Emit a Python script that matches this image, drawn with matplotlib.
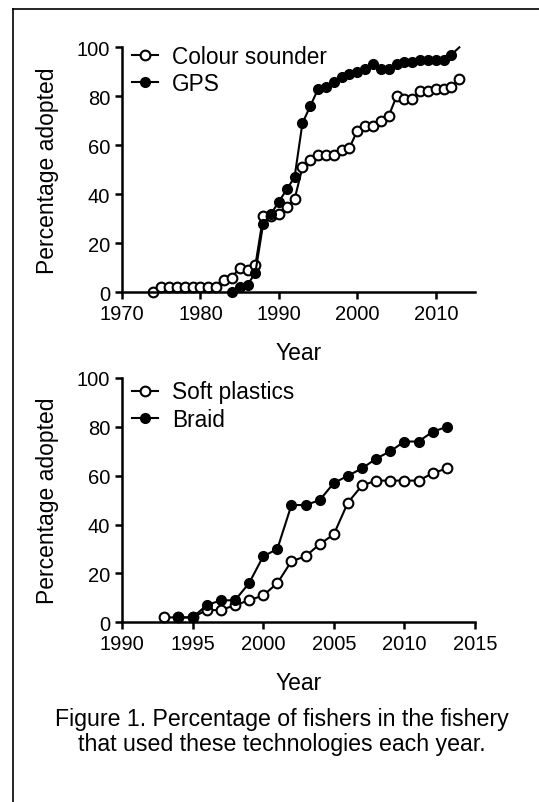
import matplotlib
matplotlib.use("Agg")
import matplotlib.pyplot as plt
from matplotlib.lines import Line2D

plt.rcParams['font.family'] = ['Liberation Sans', 'DejaVu Sans']

# top panel data
years_cs = list(range(1974, 2014))
colour_sounder = [0, 2, 2, 2, 2, 2, 2, 2, 2, 5, 6, 10, 9, 11, 31, 31, 32, 35, 38,
                  51, 54, 56, 56, 56, 58, 59, 66, 68, 68, 70, 72, 80, 79, 79,
                  82, 82, 83, 83, 84, 87]
years_gps = list(range(1984, 2014))
gps = [0, 2, 3, 8, 28, 32, 37, 42, 47, 69, 76, 83, 84, 86, 88, 89, 90, 91, 93,
       91, 91, 93, 94, 94, 95, 95, 95, 95, 97, 100]

# bottom panel data
years_sp = list(range(1993, 2014))
soft_plastics = [2, 2, 2, 5, 5, 7, 9, 11, 16, 25, 27, 32, 36, 49, 56, 58, 58,
                 58, 58, 61, 63]
years_braid = list(range(1994, 2014))
braid = [2, 2, 7, 9, 9, 16, 27, 30, 48, 48, 50, 57, 60, 63, 67, 70, 74, 74,
         78, 80]

W, H = 539, 803
fig = plt.figure(figsize=(W / 100, H / 100), dpi=100)

# frame lines (top and left of the page box)
fig.add_artist(Line2D([13 / W, 13 / W], [0, 1 - 10 / H], color='black', lw=1.2))
fig.add_artist(Line2D([13 / W, 1], [1 - 10 / H, 1 - 10 / H], color='black', lw=1.2))

ax1 = fig.add_axes([122 / W, 1 - 293.3 / H, 353 / W, 245 / H])
ax2 = fig.add_axes([122 / W, 1 - 623.3 / H, 353 / W, 244.3 / H])

open_style = dict(color='black', lw=1.5, marker='o', ms=7, mfc='white',
                  mec='black', mew=1.5)
fill_style = dict(color='black', lw=1.5, marker='o', ms=7, mfc='black',
                  mec='black', mew=1.0)

ax1.plot(years_cs, colour_sounder, label='Colour sounder', **open_style)
ax1.plot(years_gps, gps, label='GPS', markevery=list(range(len(gps) - 1)),
         **fill_style)
ax1.set_xlim(1970, 2015)
ax1.set_xticks(range(1970, 2011, 10))

ax2.plot(years_sp, soft_plastics, label='Soft plastics', **open_style)
ax2.plot(years_braid, braid, label='Braid', **fill_style)
ax2.set_xlim(1990, 2015)
ax2.set_xticks(range(1990, 2016, 5))

for ax, ly in ((ax1, 1.011), (ax2, 0.990)):
    ax.set_ylim(0, 100)
    ax.set_yticks(range(0, 101, 20))
    ax.spines['top'].set_visible(False)
    ax.spines['right'].set_visible(False)
    ax.spines['left'].set_linewidth(1.8)
    ax.spines['bottom'].set_linewidth(1.8)
    ax.tick_params(direction='out', length=5, width=1.8, labelsize=14.5, pad=3.5)
    ax.set_xlabel('Year', fontsize=16.5, labelpad=13)
    ax.set_ylabel('Percentage adopted', fontsize=16.5, labelpad=13)
    ax.legend(loc='upper left', bbox_to_anchor=(0.029, ly), frameon=False,
              fontsize=16.3, handlelength=1.15, handletextpad=0.6,
              borderaxespad=0, labelspacing=0.18, borderpad=0)
    for line in ax.lines:
        line.set_clip_on(False)

fig.text(282 / W, 1 - 720 / H, 'Figure 1. Percentage of fishers in the fishery',
         ha='center', va='center', fontsize=16.7)
fig.text(282 / W, 1 - 745 / H, 'that used these technologies each year.',
         ha='center', va='center', fontsize=16.7)

fig.savefig('out.png', dpi=100)
